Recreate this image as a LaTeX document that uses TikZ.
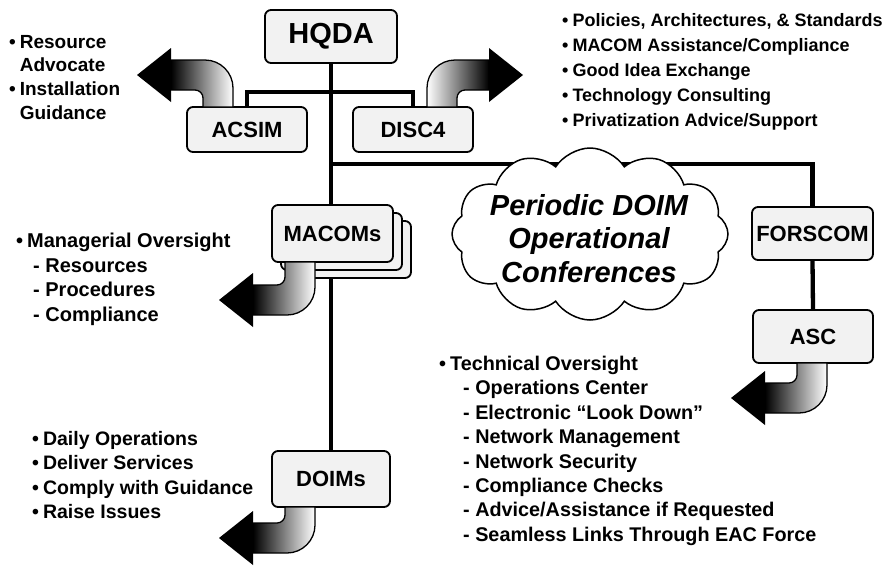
\documentclass[tikz,border=0pt]{standalone}
\usepackage{fontspec}
\setmainfont{Liberation Sans}
\usetikzlibrary{shapes.symbols}
\pgfdeclarelayer{background}
\pgfsetlayers{background,main}
\newcommand{\bl}{•\hspace{4pt}}
\newcommand{\bentarrow}[6]{%
\begin{scope}[shift={(#1,#2)}, xscale=#3, yscale=#4]
 \shadedraw[#6, line width=1.3pt, line join=round] (-30,0) -- (0,0) -- (0,#5-28)
   .. controls (0,#5-12.6) and (-12.6,#5) .. (-28,#5) -- (-62,#5) -- (-62,#5-30) -- (-38,#5-30)
   .. controls (-33.6,#5-30) and (-30,#5-33.6) .. (-30,#5-38) -- cycle;
 \fill[black] (-62,#5-42) -- (-96,#5-15) -- (-62,#5+12) -- cycle;
\end{scope}}
\tikzset{
 box/.style={draw, line width=1.8pt, rounded corners=6pt, fill=black!5, inner sep=0pt,
   font=\bfseries\fontsize{22}{26}\selectfont},
 conn/.style={line width=4.3pt},
 lst/.style={anchor=north west, align=left, inner sep=0pt},
 toleft/.style={left color=black, middle color=black!30, right color=white},
 toright/.style={left color=white, middle color=black!30, right color=black},
}
\begin{document}
\begin{tikzpicture}[x=1pt,y=-1pt]
\useasboundingbox (0,0) rectangle (890,566);
% boxes
\node[box, minimum width=132, minimum height=53, font=\bfseries\fontsize{29}{32}\selectfont] (hqda) at (331,36.5) {HQDA};
\node[box, minimum width=120, minimum height=45] (acsim) at (247,129.5) {ACSIM};
\node[box, minimum width=120, minimum height=45] (disc4) at (413,129.5) {DISC4};
\node[box, minimum width=121, minimum height=57] (macoms3) at (350.5,249.5) {};
\node[box, minimum width=121, minimum height=57] (macoms2) at (341.5,241.5) {};
\node[box, minimum width=121, minimum height=57] (macoms) at (332.5,233.5) {MACOMs};
\node[box, minimum width=118, minimum height=56] (doims) at (331,479) {DOIMs};
\node[box, minimum width=121, minimum height=53] (forscom) at (812.5,233.5) {FORSCOM};
\node[box, minimum width=120, minimum height=53] (asc) at (813,336.5) {ASC};
% cloud
\node[cloud, draw, fill=white, line width=1.5pt, cloud puffs=12, cloud puff arc=115, aspect=1.6,
  minimum width=276, minimum height=172] (cloud) at (590,234) {};
\node[align=center, inner sep=0pt, font=\bfseries\itshape\fontsize{29}{33.5}\selectfont] (cloudtext) at (589,238.5)
  {Periodic DOIM\\Operational\\Conferences};
% connectors
\coordinate (j1) at (331,164);
\begin{pgfonlayer}{background}
\draw[conn] (hqda.south) -- (doims.north);
\draw[conn] (acsim.north) -- ++(0,-14) -| (disc4.north);
\draw[conn] (j1) -| (forscom.north);
\draw[conn] (forscom.south) -- (asc.north);
\end{pgfonlayer}
% bent arrows
\bentarrow{233}{107}{1}{-1}{47}{toleft}
\bentarrow{427}{107}{-1}{-1}{47}{toright}
\bentarrow{315}{262}{1}{1}{53}{toleft}
\bentarrow{315}{507}{1}{1}{46}{toleft}
\bentarrow{827}{363}{1}{1}{50}{toleft}
% lists
\node[lst, font=\bfseries\fontsize{19}{23.7}\selectfont] (l1) at (9,35)
  {\bl Resource\\\phantom{\bl}Advocate\\\bl Installation\\\phantom{\bl}Guidance};
\node[lst, font=\bfseries\fontsize{18}{25}\selectfont] (r1) at (562,13)
  {\bl Policies, Architectures, \& Standards\\\bl MACOM Assistance/Compliance\\\bl Good Idea Exchange\\\bl Technology Consulting\\\bl Privatization Advice/Support};
\node[lst, font=\bfseries\fontsize{20}{24.5}\selectfont] (m1) at (16,233)
  {\bl Managerial Oversight\\\hspace{17pt}- Resources\\\hspace{17pt}- Procedures\\\hspace{17pt}- Compliance};
\node[lst, font=\bfseries\fontsize{19.5}{24.5}\selectfont] (d1) at (32,431)
  {\bl Daily Operations\\\bl Deliver Services\\\bl Comply with Guidance\\\bl Raise Issues};
\node[lst, font=\bfseries\fontsize{19.8}{24.4}\selectfont] (t1) at (439,356)
  {\bl Technical Oversight\\\hspace{24pt}- Operations Center\\\hspace{24pt}- Electronic “Look Down”\\\hspace{24pt}- Network Management\\\hspace{24pt}- Network Security\\\hspace{24pt}- Compliance Checks\\\hspace{24pt}- Advice/Assistance if Requested\\\hspace{24pt}- Seamless Links Through EAC Force};
\end{tikzpicture}
\end{document}
